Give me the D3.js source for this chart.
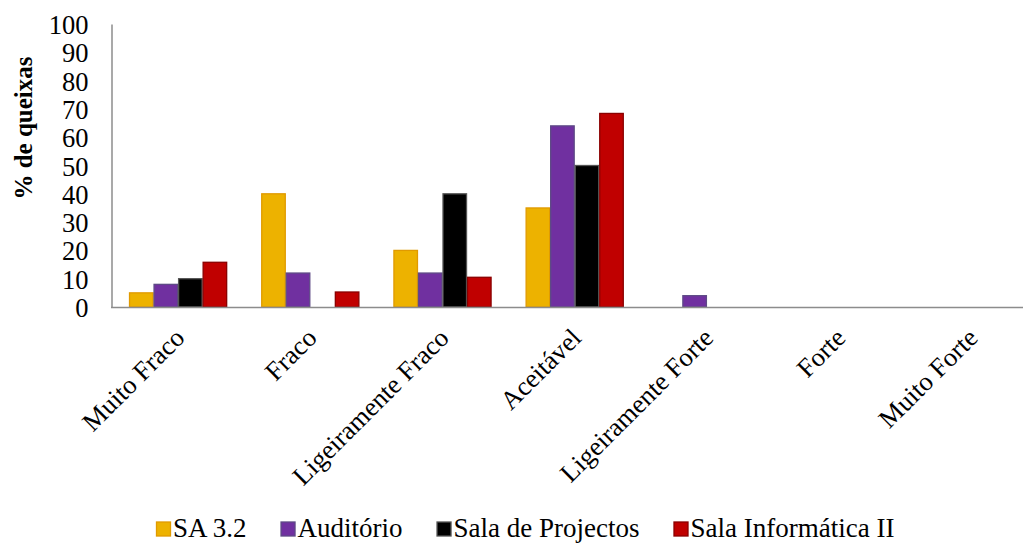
<!DOCTYPE html>
<html>
<head>
<meta charset="utf-8">
<script src="https://cdn.jsdelivr.net/npm/d3@7/dist/d3.min.js"></script>
<style>
  html, body { margin: 0; padding: 0; background: #fff; }
  svg { display: block; font-family: "Liberation Serif", "Times New Roman", serif; }
</style>
</head>
<body>
<svg id="chart" width="1023" height="544"></svg>
<script>
// Perceived level of complaints per room
const categories = ["Muito Fraco", "Fraco", "Ligeiramente Fraco", "Aceitável", "Ligeiramente Forte", "Forte", "Muito Forte"];
const seriesNames = ["SA 3.2", "Auditório", "Sala de Projectos", "Sala Informática II"];
const sa32 = [5, 40, 20, 35, 0, 0, 0];
const auditorio = [8, 12, 12, 64, 4, 0, 0];
const salaProjectos = [10, 0, 40, 50, 0, 0, 0];
const salaInformatica = [15.8, 5.3, 10.5, 68.4, 0, 0, 0];
const yTicks = [0, 10, 20, 30, 40, 50, 60, 70, 80, 90, 100];

const seriesValues = [sa32, auditorio, salaProjectos, salaInformatica];
const fills = ["#EDB200", "#7030A0", "#000000", "#C00000"];
const strokes = ["#E09A00", "#5E4A86", "#555555", "#8A0000"];

const svg = d3.select("#chart");
const plotTop = 24, plotBottom = 307, plotLeft = 111.5;
const step = 132.2;

const x = d3.scaleBand()
  .domain(categories)
  .range([112, 112 + step * categories.length])
  .paddingInner(0.2576)
  .paddingOuter(0.1288);

const xs = d3.scaleBand()
  .domain(seriesNames)
  .range([0, x.bandwidth()]);

const y = d3.scaleLinear().domain([0, 100]).range([plotBottom, plotTop]);

// Bars
const rows = [];
seriesNames.forEach((s, si) => {
  categories.forEach((c, ci) => {
    const v = seriesValues[si][ci];
    if (v > 0) rows.push({ s, si, c, v });
  });
});

svg.append("g")
  .selectAll("rect")
  .data(rows)
  .join("rect")
  .attr("x", d => x(d.c) + xs(d.s) + 0.5)
  .attr("y", d => y(d.v))
  .attr("width", xs.bandwidth() - 1)
  .attr("height", d => y(0) - y(d.v))
  .attr("fill", d => fills[d.si])
  .attr("stroke", d => strokes[d.si])
  .attr("stroke-width", 1.3);

// Y axis
const yAxis = svg.append("g")
  .attr("transform", `translate(${plotLeft},0)`)
  .call(d3.axisLeft(y).tickValues(yTicks).tickSize(0).tickSizeOuter(0).tickPadding(23));
yAxis.select(".domain").attr("stroke", "#8C8C8C").attr("stroke-width", 1.5);
yAxis.selectAll("text")
  .attr("font-family", "Liberation Serif")
  .attr("font-size", 26.5)
  .attr("fill", "#000")
  .attr("dy", "0.36em");

// X axis
const xAxis = svg.append("g")
  .attr("transform", `translate(0,${plotBottom + 0.5})`)
  .call(d3.axisBottom(x).tickSize(0).tickSizeOuter(0));
xAxis.select(".domain")
  .attr("d", `M${plotLeft - 0.5},0H${112 + step * categories.length}`)
  .attr("stroke", "#8C8C8C").attr("stroke-width", 1.5);
xAxis.selectAll(".tick text")
  .attr("font-family", "Liberation Serif")
  .attr("font-size", 26.5)
  .attr("fill", "#000")
  .attr("text-anchor", "end")
  .attr("x", 0).attr("y", 0).attr("dy", 0)
  .attr("transform", "translate(8,32) rotate(-45)");

// Y axis title
svg.append("text")
  .attr("transform", "translate(32,128) rotate(-90)")
  .attr("text-anchor", "middle")
  .attr("font-family", "Liberation Serif")
  .attr("font-weight", "bold")
  .attr("font-size", 25)
  .text("% de queixas");

// Legend
const legend = svg.append("g").attr("transform", "translate(0,537)");
let lx = 156;
seriesNames.forEach((s, i) => {
  const g = legend.append("g").attr("transform", `translate(${lx},0)`);
  g.append("rect")
    .attr("x", 0.5).attr("y", -15)
    .attr("width", 14).attr("height", 14)
    .attr("fill", fills[i])
    .attr("stroke", strokes[i])
    .attr("stroke-width", 1.3);
  const t = g.append("text")
    .attr("x", 17)
    .attr("font-family", "Liberation Serif")
    .attr("font-size", 27)
    .text(s);
  lx += 17 + t.node().getComputedTextLength() + 34;
});
</script>
</body>
</html>
